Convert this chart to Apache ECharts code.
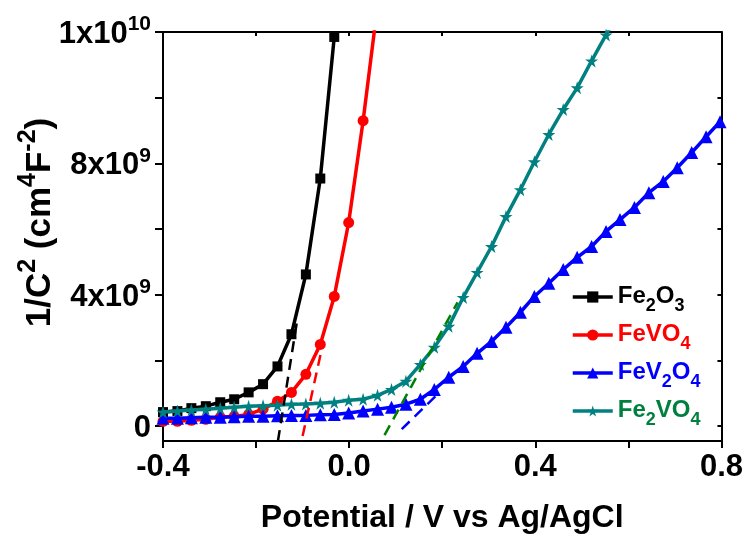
<!DOCTYPE html>
<html>
<head>
<meta charset="utf-8">
<script src="https://cdn.jsdelivr.net/npm/echarts@6/dist/echarts.min.js"></script>
<style>html,body{margin:0;padding:0;background:#fff}#c{width:746px;height:539px}</style>
</head>
<body>
<div id="c"></div>
<script>
// Potential (V vs Ag/AgCl) at each sampled point
const potentials = [-0.400,-0.369,-0.339,-0.308,-0.277,-0.247,-0.216,-0.185,-0.154,-0.124,
  -0.093,-0.062,-0.032,-0.001,0.030,0.061,0.091,0.122,0.153,0.183,
  0.214,0.245,0.275,0.306,0.337,0.368,0.398,0.429,0.460,0.490,
  0.521,0.552,0.582,0.613,0.644,0.675,0.705,0.736,0.767,0.797];
// 1/C^2 values in units of 1e9 (axis units)
const fe2o3 = [0.43,0.46,0.55,0.61,0.73,0.82,1.03,1.28,1.82,2.80,4.62,7.54,11.85];
const fevo4 = [0.15,0.15,0.18,0.21,0.27,0.30,0.36,0.52,0.76,1.03,1.58,2.49,3.95,6.20,9.30,12.8];
const fev2o4 = [0.24,0.24,0.26,0.27,0.27,0.29,0.30,0.30,0.32,0.33,0.33,0.35,0.36,0.40,0.46,0.52,0.58,0.67,0.82,1.12,
  1.49,1.82,2.22,2.58,3.01,3.47,3.95,4.35,4.77,5.14,5.47,5.93,6.29,6.66,7.11,7.45,7.87,8.33,8.81,9.27];
const fe2vo4 = [0.43,0.46,0.49,0.52,0.55,0.58,0.61,0.62,0.64,0.67,0.68,0.70,0.73,0.79,0.82,0.94,1.12,1.37,1.88,2.40,
  3.04,3.92,4.68,5.47,6.38,7.20,8.05,8.88,9.64,10.30,11.12,11.91,12.7];
// Linear (Mott-Schottky) fit lines: [x], [y]
const fitFe2O3X = [-0.153,-0.112], fitFe2O3Y = [-0.45,3.20];
const fitFeVO4X = [-0.100,-0.059], fitFeVO4Y = [-0.30,2.34];
const fitFe2VO4X = [0.076,0.233], fitFe2VO4Y = [-0.27,3.77];
const fitFeV2O4X = [0.113,0.194], fitFeV2O4Y = [-0.09,1.03];
// Axis ticks and labels
const xTickValues = [-0.4,-0.2,0.0,0.2,0.4,0.6,0.8];
const xLabelValues = [-0.4,0.0,0.4,0.8];
const xTickLabels = ['-0.4','0.0','0.4','0.8'];
const yTickValues = [0,2,4,6,8,10,12];
const yLabelValues = [0,4,8,12];
const yTickLabels = ['{n|0}','{n|4x10}{s|9}','{n|8x10}{s|9}','{n|1x10}{s|10}'];
const seriesNames = ['Fe2O3','FeVO4','FeV2O4','Fe2VO4'];
const legendRich = {
  'Fe2O3': '{kn|Fe}{ks|2}{kn|O}{ks|3}',
  'FeVO4': '{rn|FeVO}{rs|4}',
  'FeV2O4': '{bn|FeV}{bs|2}{bn|O}{bs|4}',
  'Fe2VO4': '{gn|Fe}{gs|2}{gn|VO}{gs|4}'
};

const pairs = (ys) => ys.map((y, i) => [potentials[i], y]);
const zip = (xs, ys) => xs.map((x, i) => [x, ys[i]]);
const FONT = '"Liberation Sans", Arial, sans-serif';
const star = 'path://M50,0 L61,35 L98,35 L68,57 L79,91 L50,70 L21,91 L32,57 L2,35 L39,35 Z';

function legendStyles() {
  const r = {};
  const cols = {k:'#000000', r:'#ff0000', b:'#0000ff', g:'#008040'};
  for (const k in cols) {
    r[k+'n'] = {fontSize: 24, fontWeight: 'bold', fontFamily: FONT, color: cols[k], lineHeight: 26, verticalAlign: 'top'};
    r[k+'s'] = {fontSize: 18, fontWeight: 'bold', fontFamily: FONT, color: cols[k], lineHeight: 18, verticalAlign: 'bottom', padding:[0,0,-5,0]};
  }
  return r;
}

const chart = echarts.init(document.getElementById('c'), null, {renderer: 'canvas'});
const dashLine = (data, color) => ({
  type: 'line', data, symbol: 'none', silent: true, z: 5,
  lineStyle: {color, width: 2.5, type: [11, 7]}
});
const bold = (size) => ({fontSize: size, fontWeight: 'bold', fontFamily: FONT, color: '#000'});
chart.setOption({
  animation: false,
  backgroundColor: '#fff',
  grid: {left: 163, right: 24, top: 32, bottom: 98},
  legend: {
    orient: 'vertical', left: 566, top: 279,
    itemWidth: 40, itemHeight: 14, itemGap: 7,
    data: seriesNames,
    lineStyle: {width: 3.5},
    formatter: (n) => legendRich[n],
    textStyle: {rich: legendStyles()}
  },
  xAxis: [{
    type: 'value', min: -0.4, max: 0.8,
    name: 'Potential / V vs Ag/AgCl', nameLocation: 'middle', nameGap: 61,
    nameTextStyle: bold(32),
    axisLine: {onZero: false, lineStyle: {color: '#000', width: 2}},
    axisTick: {customValues: xTickValues, length: 7, lineStyle: {width: 2, color: '#000'}},
    axisLabel: Object.assign({customValues: xLabelValues, margin: 11,
      formatter: (v) => xTickLabels[xLabelValues.findIndex(t => Math.abs(t - v) < 1e-9)]}, bold(31)),
    splitLine: {show: false}
  }, {
    type: 'value', position: 'top', min: -0.4, max: 0.8,
    axisLine: {onZero: false, lineStyle: {color: '#000', width: 2}},
    axisTick: {customValues: xTickValues, inside: true, length: 4, lineStyle: {width: 2, color: '#000'}},
    axisLabel: {show: false}, splitLine: {show: false}
  }],
  yAxis: [{
    type: 'value', min: -0.45, max: 12,
    name: '{a|1/C}{s|2}{a| (cm}{s|4}{a|F}{s|-2}{a|)}', nameLocation: 'middle', nameGap: 105, nameRotate: 90,
    nameMoveOverlap: false,
    nameTextStyle: {padding: [0, 0, 0, 28], rich: {
      a: Object.assign({lineHeight: 42, verticalAlign: 'bottom'}, bold(35)),
      s: Object.assign({lineHeight: 24, verticalAlign: 'top'}, bold(25))
    }},
    axisLine: {onZero: false, lineStyle: {color: '#000', width: 2}},
    axisTick: {customValues: yTickValues, length: 8, lineStyle: {width: 2, color: '#000'}},
    axisLabel: {customValues: yLabelValues, margin: 12,
      formatter: (v) => yTickLabels[yLabelValues.indexOf(v)],
      rich: {
        n: Object.assign({lineHeight: 36, verticalAlign: 'bottom'}, bold(31)),
        s: Object.assign({lineHeight: 20, verticalAlign: 'top'}, bold(21))
      }},
    splitLine: {show: false}
  }, {
    type: 'value', position: 'right', min: -0.45, max: 12,
    axisLine: {onZero: false, lineStyle: {color: '#000', width: 2}},
    axisTick: {customValues: yTickValues, inside: true, length: 4, lineStyle: {width: 2, color: '#000'}},
    axisLabel: {show: false}, splitLine: {show: false}
  }],
  series: [
    {name: 'Fe2O3', type: 'line', data: pairs(fe2o3), symbol: 'rect', symbolSize: 10, z: 2,
      itemStyle: {color: '#000'}, lineStyle: {color: '#000', width: 3.5}},
    {name: 'FeVO4', type: 'line', data: pairs(fevo4), symbol: 'circle', symbolSize: 11, z: 2,
      itemStyle: {color: '#ff0000'}, lineStyle: {color: '#ff0000', width: 3.5}},
    {name: 'FeV2O4', type: 'line', data: pairs(fev2o4), symbol: 'triangle', symbolSize: 13, z: 3,
      itemStyle: {color: '#0000ff'}, lineStyle: {color: '#0000ff', width: 3.5}},
    {name: 'Fe2VO4', type: 'line', data: pairs(fe2vo4), symbol: star, symbolSize: 13, z: 4,
      itemStyle: {color: '#008080'}, lineStyle: {color: '#008080', width: 3.5}},
    dashLine(zip(fitFe2O3X, fitFe2O3Y), '#000000'),
    dashLine(zip(fitFeVO4X, fitFeVO4Y), '#ff0000'),
    dashLine(zip(fitFe2VO4X, fitFe2VO4Y), '#008000'),
    dashLine(zip(fitFeV2O4X, fitFeV2O4Y), '#0000ff')
  ]
});
</script>
</body>
</html>
